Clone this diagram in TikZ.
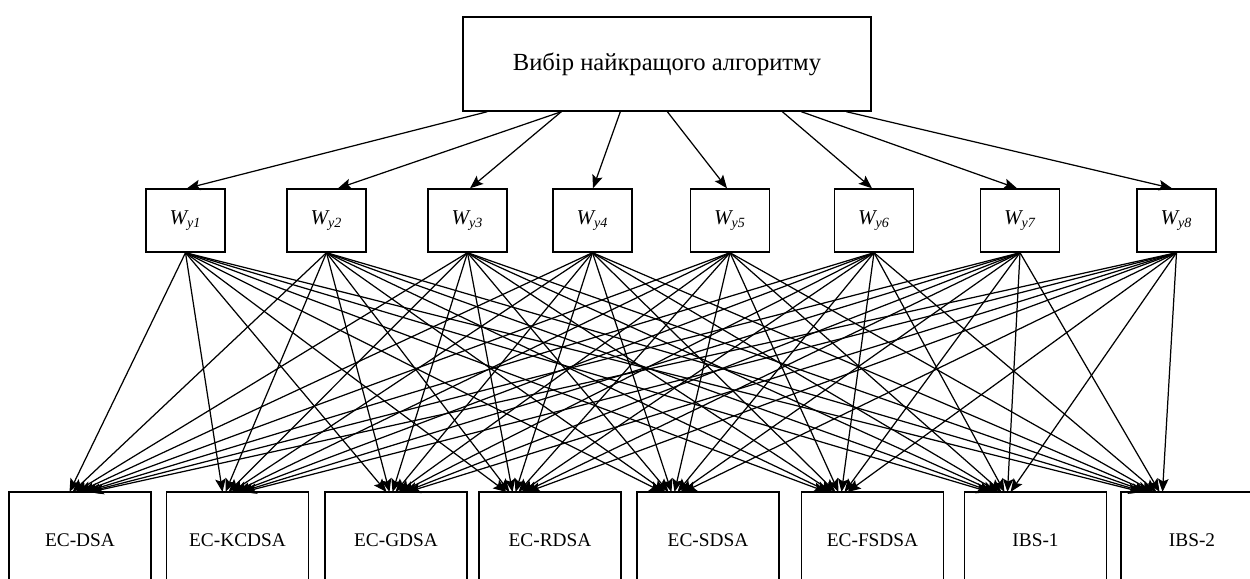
\documentclass[tikz,border=0pt]{standalone}
\usepackage{fontspec}
\setmainfont{Liberation Serif}
\usetikzlibrary{positioning,shapes,arrows,arrows.meta,calc}

\tikzset{
  box/.style={draw, line width=0.8pt, inner sep=0pt, align=center},
  crit/.style={box, minimum width=1.58cm, minimum height=1.26cm, font=\fontsize{12}{14}\selectfont\itshape},
  algo/.style={box, minimum width=2.84cm, minimum height=1.92cm, font=\fontsize{11}{13}\selectfont},
  arr/.style={-{Stealth[length=7.5pt, width=6pt, inset=1.5pt]}, line width=0.7pt}
}

\begin{document}
\begin{tikzpicture}[x=0.02cm, y=-0.02cm]
  \useasboundingbox (0,0) rectangle (1250,578);
  \clip (0,0) rectangle (1250,578);
  \node[box, minimum width=8.16cm, minimum height=1.88cm, font=\fontsize{14}{16}\selectfont] (goal) at (667,64) {Вибір найкращого алгоритму};
  % criteria
  \foreach \i/\x in {1/185.5, 2/326.5, 3/467.5, 4/592.5, 5/730, 6/874, 7/1020, 8/1176.5}
    \node[crit] (w\i) at (\x,220.5) {W\textsubscript{y\i}};
  % alternatives
  \foreach \j/\x/\tx/\name in {1/80/80/EC-DSA, 2/237.5/233/EC-KCDSA, 3/396/397/EC-GDSA, 4/550/517/EC-RDSA,
      5/708/673/EC-SDSA, 6/872.5/837/EC-FSDSA, 7/1035.5/1000/IBS-1, 8/1192/1152/IBS-2}
  {
    \node[algo] (a\j) at (\x,540) {\name};
    \coordinate (t\j) at (\tx,492);
  }
  % goal -> criteria
  \foreach \i/\sx/\dx in {1/488/1.5, 2/562/11.5, 3/562/2.5, 4/621/0.5, 5/668/-3, 6/783/-2, 7/802/-3, 8/847/-4.5}
    \draw[arr] ($(goal.south west)+(\sx-463,0)$) -- ($(w\i.north)+(\dx,0)$);
  % criteria -> alternatives
  \foreach \i in {1,...,8}
    \foreach \j in {1,...,8}
      \draw[arr] (w\i.south) -- ($(t\j)+({(\i-4.5)*3},0)$);
\end{tikzpicture}
\end{document}
